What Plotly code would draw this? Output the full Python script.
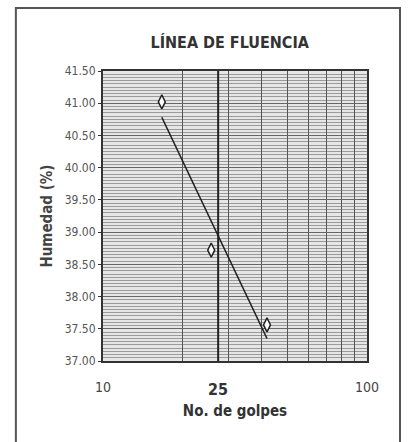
import numpy as np
import plotly.graph_objects as go

golpes = [16.7, 25.7, 41.8]
humedad = [41.02, 38.72, 37.56]
ref_line_pos = 27.3      # where the "25" reference line is drawn in the original
ref_label = "25"
x_ticks = [10, 20, 30, 40, 50, 60, 70, 80, 90, 100]
x_ticktext = ["10", "", "", "", "", "", "", "", "", "100"]
y_ticks = [37.0, 37.5, 38.0, 38.5, 39.0, 39.5, 40.0, 40.5, 41.0, 41.5]

FONT = "Liberation Sans Narrow, Arial Narrow, DejaVu Sans Condensed, sans-serif"

# logarithmic trend line
lx = np.log10(golpes)
m, b = np.polyfit(lx, humedad, 1)
tx = np.array([golpes[0], golpes[-1]])
ty = m * np.log10(tx) + b

fig = go.Figure()
fig.add_trace(go.Scatter(x=tx, y=ty, mode="lines",
                         line=dict(color="#222", width=1.6), hoverinfo="skip"))
fig.add_trace(go.Scatter(x=golpes, y=humedad, mode="markers",
                         marker=dict(symbol="diamond-tall", size=10, color="white",
                                     line=dict(color="#222", width=1.5))))
fig.add_vline(x=ref_line_pos, line=dict(color="#222", width=2))

fig.update_layout(
    width=410, height=442,
    margin=dict(l=103, r=43, t=71, b=81),
    paper_bgcolor="white", plot_bgcolor="#e6e6e6",
    showlegend=False,
    font=dict(family=FONT, color="#333"),
    title=dict(text="<b>LÍNEA DE FLUENCIA</b>", xref="paper", x=0.48, xanchor="center",
               y=0.905, yanchor="middle", font=dict(size=16, family=FONT, color="#333")),
    xaxis=dict(type="log", range=[1, 2], tickvals=x_ticks, ticktext=x_ticktext,
               showgrid=True, gridcolor="#555", gridwidth=1,
               ticks="", ticklabelstandoff=12,
               tickfont=dict(size=14, family=FONT, color="#444"),
               showline=True, linecolor="#333", linewidth=2, mirror=True,
               title=dict(text="<b>No. de golpes</b>", font=dict(size=15, family=FONT, color="#333"),
                          standoff=12),
               zeroline=False),
    yaxis=dict(range=[37.0, 41.5], tickvals=y_ticks,
               ticktext=[f"{v:.2f}" for v in y_ticks],
               showgrid=True, gridcolor="#666", gridwidth=1,
               minor=dict(dtick=0.05, showgrid=True, gridcolor="#9a9a9a", gridwidth=1),
               ticks="outside", ticklen=3, tickcolor="#333",
               tickfont=dict(size=12, family=FONT, color="#555"),
               showline=True, linecolor="#333", linewidth=2, mirror=True,
               title=dict(text="<b>Humedad (%)</b>", font=dict(size=15, family=FONT, color="#444"),
                          standoff=8),
               zeroline=False),
)

fig.add_annotation(x=np.log10(ref_line_pos), y=0, xref="x", yref="paper",
                   text="<b>" + ref_label + "</b>", showarrow=False, yanchor="top", yshift=-17,
                   font=dict(size=16, family=FONT, color="#333"))

# outer frame
fig.add_shape(type="rect", xref="paper", yref="paper",
              x0=-0.33, x1=1.125, y0=-0.35, y1=1.217,
              line=dict(color="#555", width=2), layer="below")

fig.write_html("out.html")
